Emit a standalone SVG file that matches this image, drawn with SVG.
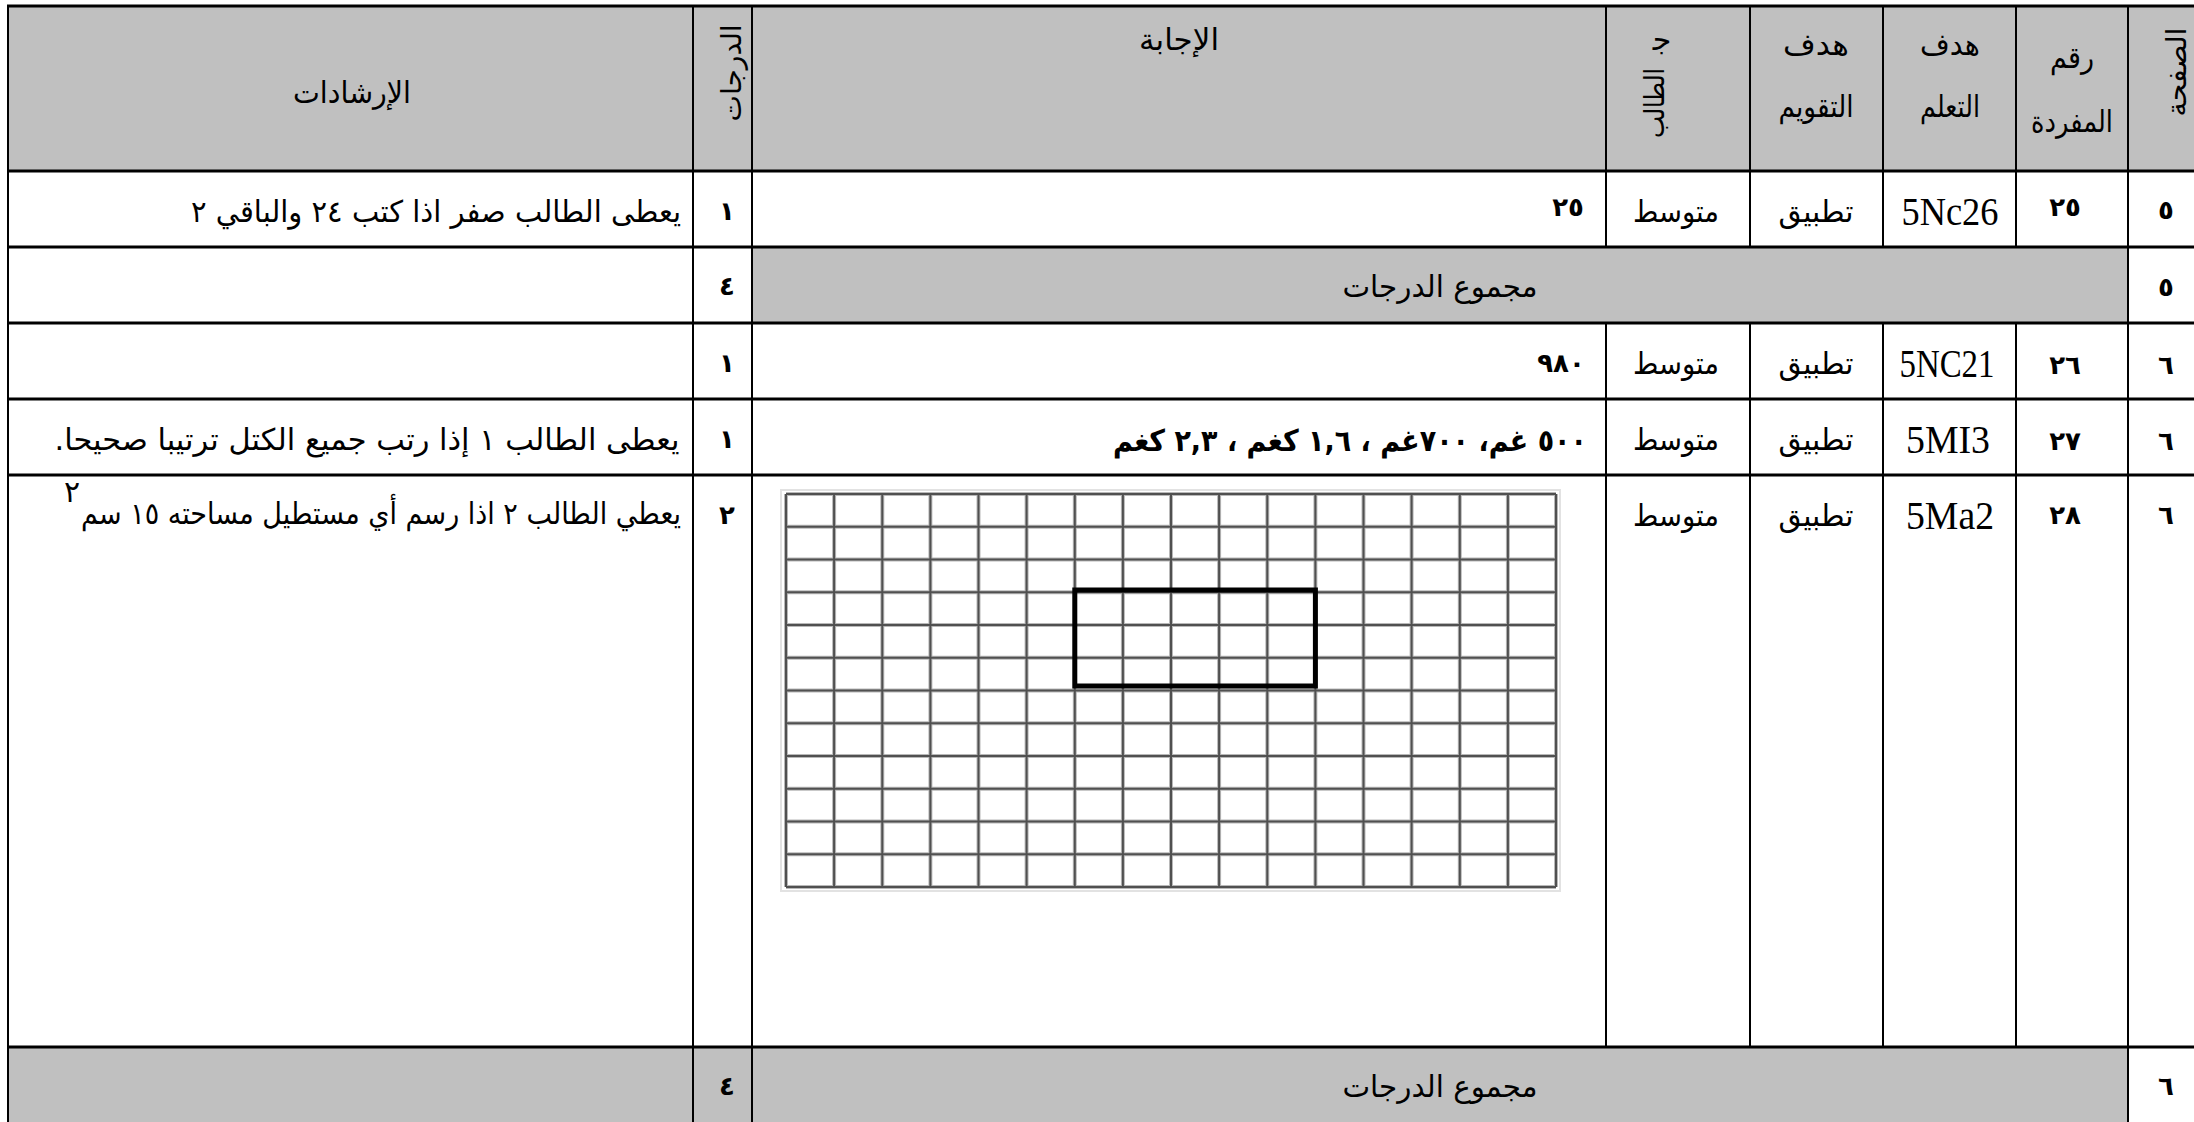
<svg xmlns="http://www.w3.org/2000/svg" width="2194" height="1122" viewBox="0 0 2194 1122">
<style>
.ar{font-family:'DejaVu Sans',sans-serif;font-size:30px;fill:#000;text-anchor:middle;direction:rtl;unicode-bidi:embed}
.rot{font-size:28px}
.bd{font-weight:bold}
.d{font-family:'DejaVu Sans',sans-serif;font-size:26px;font-weight:bold;text-anchor:middle;fill:#000}
.lat{font-family:'Liberation Serif','Times New Roman',serif;font-size:40px;text-anchor:middle;fill:#000}
.grey{fill:#c0c0c0}
.hl{stroke:#000;stroke-width:2.8;fill:none}
.vl{stroke:#000;stroke-width:2;fill:none}
.gh{stroke:#b8b8b8;stroke-width:4;fill:none}
.gl{stroke:#505050;stroke-width:2;fill:none}
</style>
<defs>
<clipPath id="cDeg"><rect x="694" y="7" width="57" height="163"/></clipPath>
<clipPath id="cPage"><rect x="2129" y="7" width="65" height="163"/></clipPath>
</defs>
<rect x="0" y="0" width="2194" height="1122" fill="#fff"/>

<g id="fills">
<rect class="grey" x="8" y="6" width="2190" height="165"/>
<rect class="grey" x="752" y="247" width="1376" height="76"/>
<rect class="grey" x="8" y="1047" width="2120" height="80"/>
</g>

<g id="grid-figure">
<rect x="781" y="490" width="779" height="401" fill="#fff" stroke="#e2e2e2" stroke-width="2"/>
<path class="gh" d="M786 494V887M834.1 494V887M882.3 494V887M930.4 494V887M978.5 494V887M1026.6 494V887M1074.8 494V887M1122.9 494V887M1171 494V887M1219.1 494V887M1267.3 494V887M1315.4 494V887M1363.5 494V887M1411.6 494V887M1459.8 494V887M1507.9 494V887M1556 494V887M786 494H1556M786 526.8H1556M786 559.5H1556M786 592.3H1556M786 625H1556M786 657.8H1556M786 690.5H1556M786 723.3H1556M786 756H1556M786 788.8H1556M786 821.5H1556M786 854.3H1556M786 887H1556"/>
<path class="gl" d="M786 494V887M834.1 494V887M882.3 494V887M930.4 494V887M978.5 494V887M1026.6 494V887M1074.8 494V887M1122.9 494V887M1171 494V887M1219.1 494V887M1267.3 494V887M1315.4 494V887M1363.5 494V887M1411.6 494V887M1459.8 494V887M1507.9 494V887M1556 494V887"/>
<path class="gl" d="M786 494H1556M786 526.8H1556M786 559.5H1556M786 592.3H1556M786 625H1556M786 657.8H1556M786 690.5H1556M786 723.3H1556M786 756H1556M786 788.8H1556M786 821.5H1556M786 854.3H1556M786 887H1556"/>
<rect x="1074.8" y="590" width="240.6" height="96" fill="none" stroke="#000" stroke-width="5"/>
</g>

<g id="connectors">
<path class="hl" d="M7 6H2194M7 171H2194M7 247H2194M7 323H2194M7 399H2194M7 475H2194M7 1047H2194"/>
<path class="vl" d="M8 5V1122M693 5V1122M752 5V1122M2128 5V1122M1606 5V247M1606 323V1047M1750 5V247M1750 323V1047M1883 5V247M1883 323V1047M2016 5V247M2016 323V1047"/>
</g>

<g id="header">
<text class="ar" x="352" y="103" textLength="118" lengthAdjust="spacingAndGlyphs">الإرشادات</text>
<g clip-path="url(#cDeg)"><text class="ar rot" transform="translate(741,73) rotate(-90)" textLength="97" lengthAdjust="spacingAndGlyphs">الدرجات</text></g>
<text class="ar" x="1179" y="50" textLength="80" lengthAdjust="spacingAndGlyphs">الإجابة</text>
<text class="ar" x="1662" y="50" font-size="24">ﺟ</text>
<text class="ar rot" transform="translate(1664,103) rotate(-90)" textLength="70" lengthAdjust="spacingAndGlyphs">الطالب</text>
<text class="ar" x="1816" y="55" textLength="66" lengthAdjust="spacingAndGlyphs">هدف</text>
<text class="ar" x="1816" y="117" textLength="75" lengthAdjust="spacingAndGlyphs">التقويم</text>
<text class="ar" x="1950" y="55" textLength="60" lengthAdjust="spacingAndGlyphs">هدف</text>
<text class="ar" x="1950" y="117" textLength="60" lengthAdjust="spacingAndGlyphs">التعلم</text>
<text class="ar" x="2072" y="68" textLength="44" lengthAdjust="spacingAndGlyphs">رقم</text>
<text class="ar" x="2072" y="132" textLength="82" lengthAdjust="spacingAndGlyphs">المفردة</text>
<g clip-path="url(#cPage)"><text class="ar rot" transform="translate(2186,72) rotate(-90)" textLength="89" lengthAdjust="spacingAndGlyphs">الصفحة</text></g>
</g>

<g id="row-25">
<text class="d" x="2166" y="219">٥</text>
<text class="d" x="2065" y="216">٢٥</text>
<text class="lat" x="1950" y="225" textLength="97" lengthAdjust="spacingAndGlyphs">5Nc26</text>
<text class="ar" x="1816" y="222" textLength="75" lengthAdjust="spacingAndGlyphs">تطبيق</text>
<text class="ar" x="1676" y="222" textLength="86" lengthAdjust="spacingAndGlyphs">متوسط</text>
<text class="d" x="1568" y="216">٢٥</text>
<text class="d" x="727" y="220">١</text>
<text class="ar" x="436" y="222" textLength="490" lengthAdjust="spacingAndGlyphs">يعطى الطالب صفر اذا كتب ٢٤ والباقي ٢</text>
</g>

<g id="total-5">
<text class="d" x="2166" y="296">٥</text>
<text class="ar" x="1440" y="297" textLength="195" lengthAdjust="spacingAndGlyphs">مجموع الدرجات</text>
<text class="d" x="727" y="295">٤</text>
</g>

<g id="row-26">
<text class="d" x="2166" y="374">٦</text>
<text class="d" x="2065" y="374">٢٦</text>
<text class="lat" x="1947" y="377" textLength="95" lengthAdjust="spacingAndGlyphs">5NC21</text>
<text class="ar" x="1816" y="374" textLength="75" lengthAdjust="spacingAndGlyphs">تطبيق</text>
<text class="ar" x="1676" y="374" textLength="86" lengthAdjust="spacingAndGlyphs">متوسط</text>
<text class="d" x="1561" y="372">٩٨٠</text>
<text class="d" x="727" y="372">١</text>
</g>

<g id="row-27">
<text class="d" x="2166" y="450">٦</text>
<text class="d" x="2065" y="450">٢٧</text>
<text class="lat" x="1948" y="453" textLength="84" lengthAdjust="spacingAndGlyphs">5MI3</text>
<text class="ar" x="1816" y="450" textLength="75" lengthAdjust="spacingAndGlyphs">تطبيق</text>
<text class="ar" x="1676" y="450" textLength="86" lengthAdjust="spacingAndGlyphs">متوسط</text>
<text class="ar bd" x="1350" y="451" textLength="474" lengthAdjust="spacingAndGlyphs">٥٠٠ غم، ٧٠٠غم ، ١,٦ كغم ، ٢,٣ كغم</text>
<text class="d" x="727" y="448">١</text>
<text class="ar" x="367" y="450" textLength="625" lengthAdjust="spacingAndGlyphs">يعطى  الطالب ١ إذا رتب جميع الكتل ترتيبا صحيحا.</text>
</g>

<g id="row-28">
<text class="d" x="2166" y="524">٦</text>
<text class="d" x="2065" y="524">٢٨</text>
<text class="lat" x="1950" y="529" textLength="88" lengthAdjust="spacingAndGlyphs">5Ma2</text>
<text class="ar" x="1816" y="526" textLength="75" lengthAdjust="spacingAndGlyphs">تطبيق</text>
<text class="ar" x="1676" y="526" textLength="86" lengthAdjust="spacingAndGlyphs">متوسط</text>
<text class="d" x="727" y="524">٢</text>
<text class="ar" x="381" y="524" textLength="600" lengthAdjust="spacingAndGlyphs">يعطي الطالب ٢ اذا رسم أي مستطيل مساحته ١٥ سم</text>
<text class="ar" x="72" y="502" font-size="17">٢</text>
</g>

<g id="total-6">
<text class="d" x="2166" y="1095">٦</text>
<text class="ar" x="1440" y="1097" textLength="195" lengthAdjust="spacingAndGlyphs">مجموع الدرجات</text>
<text class="d" x="727" y="1095">٤</text>
</g>
</svg>
